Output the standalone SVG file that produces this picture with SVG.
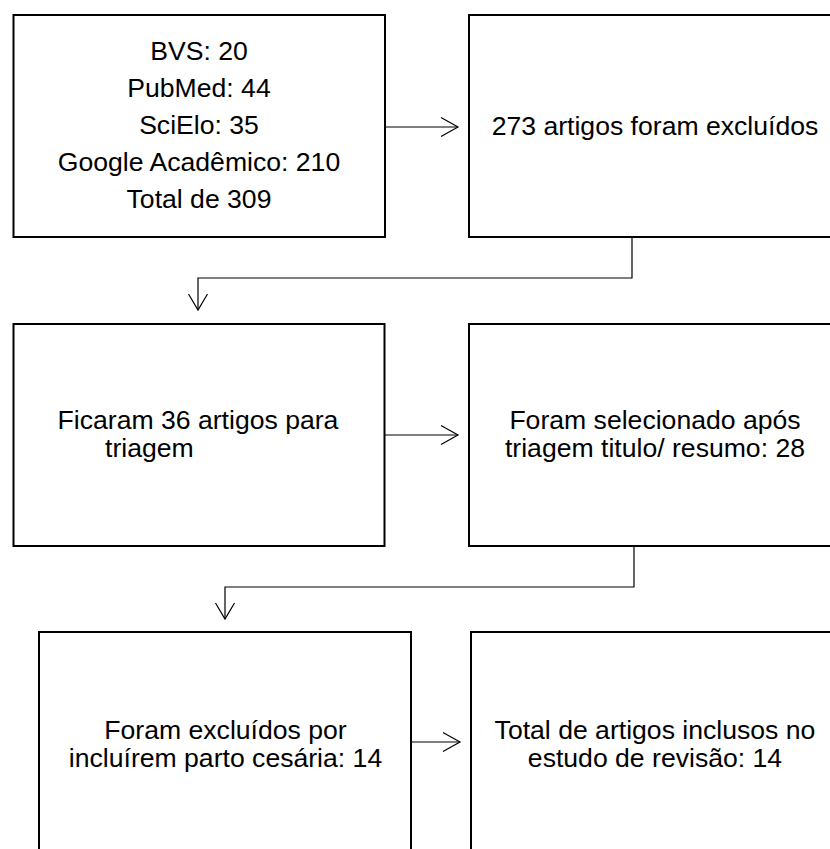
<svg xmlns="http://www.w3.org/2000/svg" width="830" height="849" viewBox="0 0 830 849">
  <style>
    .box { fill: #ffffff; stroke: #000000; stroke-width: 2; }
    .t { font-family: "Liberation Sans", Arial, sans-serif; font-size: 26.6px; fill: #000000; }
    .c { text-anchor: middle; }
    .conn { fill: none; stroke: #000000; stroke-width: 1.2; }
  </style>
  <rect width="830" height="849" fill="#ffffff"/>

  <g id="node-sources">
    <rect class="box" x="13.5" y="15" width="371.5" height="222"/>
    <text class="t c" x="199" y="59.5">BVS: 20</text>
    <text class="t c" x="199" y="96.5">PubMed: 44</text>
    <text class="t c" x="199" y="133.5">SciElo: 35</text>
    <text class="t c" x="199" y="171">Google Acadêmico: 210</text>
    <text class="t c" x="199" y="208">Total de 309</text>
  </g>

  <g id="node-excluded">
    <rect class="box" x="469" y="15" width="372" height="222"/>
    <text class="t c" x="655" y="135">273 artigos foram excluídos</text>
  </g>

  <g id="node-screening">
    <rect class="box" x="13.5" y="324" width="371" height="222"/>
    <text class="t c" x="198" y="428.5">Ficaram 36 artigos para</text>
    <text class="t" x="105" y="456.5">triagem</text>
  </g>

  <g id="node-selected">
    <rect class="box" x="469" y="324" width="372" height="222"/>
    <text class="t c" x="655" y="428.5">Foram selecionado após</text>
    <text class="t c" x="655" y="456.5">triagem titulo/ resumo: 28</text>
  </g>

  <g id="node-cesarean">
    <rect class="box" x="39" y="632" width="372" height="222"/>
    <text class="t c" x="225.5" y="738.5">Foram excluídos por</text>
    <text class="t c" x="225.5" y="766.5">incluírem parto cesária: 14</text>
  </g>

  <g id="node-included">
    <rect class="box" x="471" y="632" width="372" height="222"/>
    <text class="t c" x="655" y="738.5">Total de artigos inclusos no</text>
    <text class="t c" x="655" y="766.5">estudo de revisão: 14</text>
  </g>

  <g id="connectors">
    <line class="conn" x1="385" y1="127" x2="458" y2="127"/>
    <polyline class="conn" points="441,117.5 458,127 441,136.5"/>

    <polyline class="conn" points="632,237 632,278 198,278 198,310"/>
    <polyline class="conn" points="188.5,294 198,310 207.5,294"/>

    <line class="conn" x1="384.5" y1="435" x2="458" y2="435"/>
    <polyline class="conn" points="441,425.5 458,435 441,444.5"/>

    <polyline class="conn" points="634,546 634,587 225,587 225,619"/>
    <polyline class="conn" points="215.5,603 225,619 234.5,603"/>

    <line class="conn" x1="411" y1="742" x2="460" y2="742"/>
    <polyline class="conn" points="443,732.5 460,742 443,751.5"/>
  </g>
</svg>
